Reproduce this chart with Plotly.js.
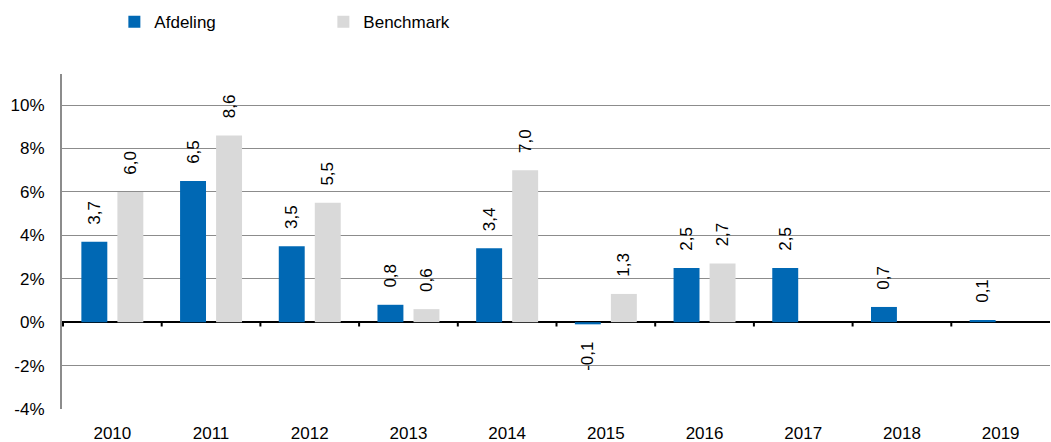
<!DOCTYPE html>
<html><head><meta charset="utf-8">
<script src="https://cdn.plot.ly/plotly-3.0.1.min.js"></script>
<style>body{margin:0;padding:0;background:#fff}#chart{width:1051px;height:442px}</style>
</head><body><div id="chart"></div>
<script>
var years = ['2010','2011','2012','2013','2014','2015','2016','2017','2018','2019'];
var afdeling = [3.7, 6.5, 3.5, 0.8, 3.4, -0.1, 2.5, 2.5, 0.7, 0.1];
var benchmark = [6.0, 8.6, 5.5, 0.6, 7.0, 1.3, 2.7, null, null, null];
var yTicks = [-4, -2, 0, 2, 4, 6, 8, 10];

var font = {family: 'Liberation Sans, Arial, sans-serif', size: 17, color: '#000'};
function tpl(vals){
  return vals.map(function(v){ return (v !== null && v < 0) ? '%{y:.1f}\u00a0\u00a0\u00a0' : '\u00a0\u00a0\u00a0%{y:.1f}'; });
}
var traces = [
  {type:'bar', name:'Afdeling', x: years, y: afdeling, marker:{color:'#0068b4'},
   texttemplate: tpl(afdeling), textposition:'outside', textangle:-90, cliponaxis:false,
   constraintext:'none', textfont: font, hoverinfo:'none'},
  {type:'bar', name:'Benchmark', x: years, y: benchmark, marker:{color:'#d9d9d9'},
   texttemplate: tpl(benchmark), textposition:'outside', textangle:-90, cliponaxis:false,
   constraintext:'none', textfont: font, hoverinfo:'none'}
];
var shapes = [];
for (var i = 0; i < years.length; i++) {
  shapes.push({type:'line', xref:'x', yref:'y', x0:i-0.5, x1:i-0.5, y0:0, y1:-0.2, line:{color:'#000', width:2}, layer:'above'});
}
var layout = {
  width:1051, height:442,
  margin:{l:62, r:1, t:74, b:33},
  paper_bgcolor:'#fff', plot_bgcolor:'#fff',
  font: font,
  separators: ',.',
  barmode:'group', bargap:0.27, bargroupgap:0.28,
  showlegend:true,
  legend:{orientation:'h', x:0.053, y:1.155, yanchor:'middle', xanchor:'left',
          font: font, entrywidth: 164, traceorder:'normal'},
  xaxis:{type:'category', showgrid:false, zeroline:false, showline:false, ticks:'',
         tickfont: font, ticklabelstandoff: 12, fixedrange:true},
  yaxis:{range:[-4, 11.43], tickvals: yTicks, ticktext: yTicks.map(function(v){return v + '%';}),
         tickfont: font,
         showgrid:true, gridcolor:'#8c8c8c', gridwidth:1,
         zeroline:true, zerolinecolor:'#000', zerolinewidth:2,
         showline:true, linecolor:'#8c8c8c', linewidth:2, ticks:'', ticklabelstandoff: 12},
  shapes: shapes
};
Plotly.newPlot('chart', traces, layout, {displayModeBar:false, staticPlot:true});
</script></body></html>
